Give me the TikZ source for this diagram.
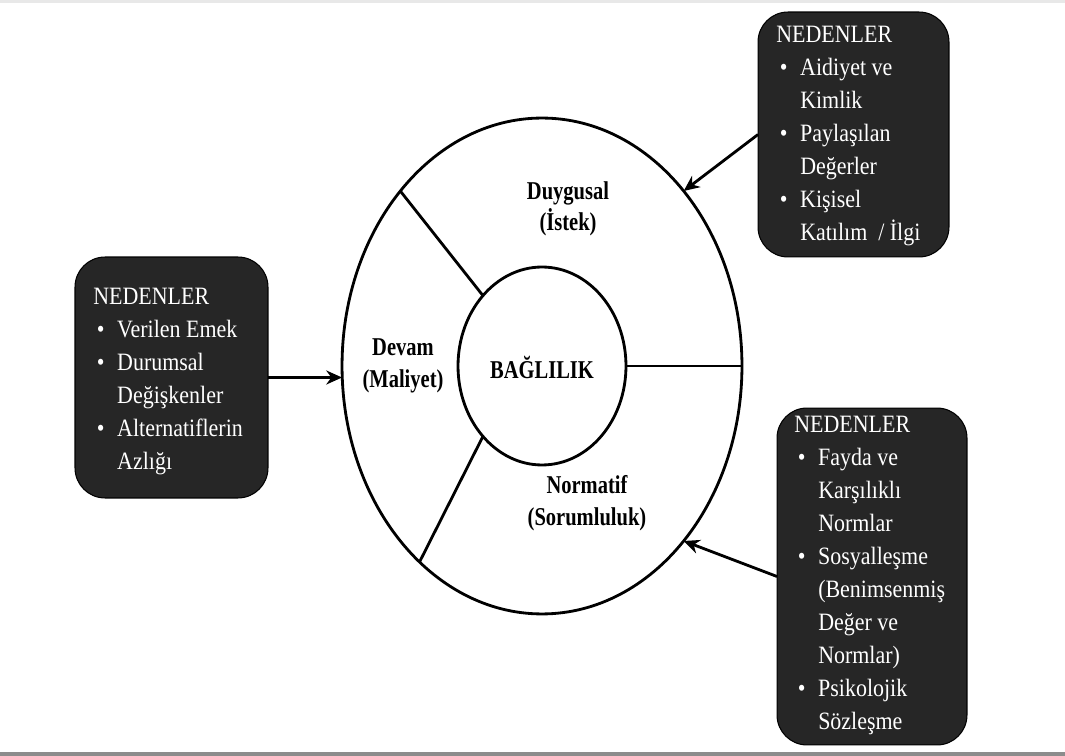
\documentclass[tikz,border=0pt]{standalone}
\usepackage{fontspec}
\setmainfont{Liberation Serif}[FakeStretch=0.88]
\newfontfamily\lblfont{Liberation Serif}[FakeStretch=0.8]
\usetikzlibrary{shapes.geometric,arrows.meta}
\newlength\bw
\setlength\bw{13.6pt}
\newcommand\blt{\makebox[\bw][l]{\hspace{2pt}\textbullet}}
\newcommand\ind{\hspace*{\bw}}
\definecolor{boxfill}{RGB}{38,38,38}
\tikzset{
  causebox/.style={rectangle, rounded corners=0.6cm, fill=boxfill, draw=black, line width=0.6pt, inner sep=0pt, outer sep=0pt},
  listtext/.style={text=white, align=left, inner sep=0pt, anchor=north west, font={\fontsize{14.2}{18.8}\selectfont}},
  ring/.style={ellipse, draw=black, line width=1.6pt, inner sep=0pt, outer sep=0pt},
  lbl/.style={align=center, inner sep=0pt, font={\lblfont\bfseries\fontsize{14.6}{17.9}\selectfont}},
  sep/.style={draw=black, line width=1.6pt},
  arr/.style={draw=black, line width=1.6pt, -{Stealth[length=9pt,width=8pt]}}
}
\begin{document}
\begin{tikzpicture}[x=0.02cm,y=-0.02cm]
\useasboundingbox (0,0) rectangle (1065,756);
\fill[white] (0,0) rectangle (1065,756);
\fill[black!9] (0,0) rectangle (1065,3);
\fill[black!45] (0,752) rectangle (1065,756);

% circles
\node[ring, minimum width=8cm, minimum height=9.92cm] (outer) at (542,366) {};
\node[ring, minimum width=3.36cm, minimum height=3.96cm] (inner) at (542,366) {};

% separators
\draw[sep] (inner.130) -- (outer.129);
\draw[sep] (inner.230) -- (outer.238.5);
\draw[sep] (inner.0) -- (outer.0);

% labels
\node[lbl] (duy) at (568,209) {Duygusal\\(İstek)};
\node[lbl] (dev) at (403,366) {Devam\\(Maliyet)};
\node[lbl] (bag) at (542,367) {BAĞLILIK};
\node[lbl] (nor) at (587,503) {Normatif\\(Sorumluluk)};

% cause boxes
\node[causebox, minimum width=3.82cm, minimum height=4.9cm] (trbox) at (853.5,134.5) {};
\node[causebox, minimum width=3.86cm, minimum height=4.82cm] (lbox) at (171.5,377.5) {};
\node[causebox, minimum width=3.8cm, minimum height=6.74cm] (brbox) at (872,576.5) {};

\node[listtext] (trtext) at (776,26) {NEDENLER\\
\blt Aidiyet ve\\
\ind Kimlik\\
\blt Paylaşılan\\
\ind Değerler\\
\blt Kişisel\\
\ind Katılım\ \ / İlgi};

\node[listtext] (ltext) at (93,288) {NEDENLER\\
\blt Verilen Emek\\
\blt Durumsal\\
\ind Değişkenler\\
\blt Alternatiflerin\\
\ind Azlığı};

\node[listtext] (brtext) at (794,416) {NEDENLER\\
\blt Fayda ve\\
\ind Karşılıklı\\
\ind Normlar\\
\blt Sosyalleşme\\
\ind (Benimsenmiş\\
\ind Değer ve\\
\ind Normlar)\\
\blt Psikolojik\\
\ind Sözleşme};

% arrows
\draw[arr] (lbox.east) -- (lbox.east -| outer.west);
\draw[arr] (trbox.west) -- (outer.51);
\draw[arr] (brbox.west) -- (outer.-51);
\end{tikzpicture}
\end{document}
